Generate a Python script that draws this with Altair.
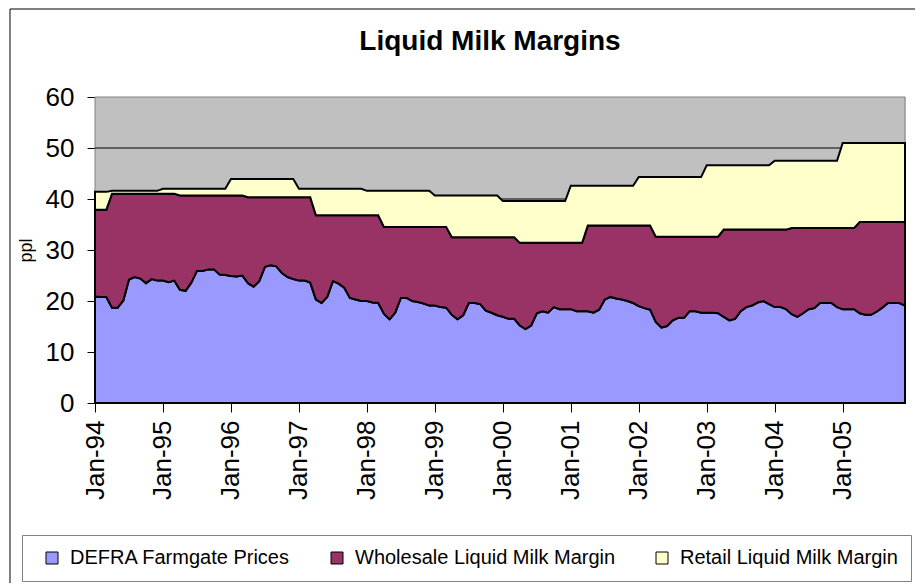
import altair as alt
import pandas as pd

FONT = "Liberation Sans"

title_text = "Liquid Milk Margins"
series_names = ["DEFRA Farmgate Prices", "Wholesale Liquid Milk Margin", "Retail Liquid Milk Margin"]
series_colors = ["#9999FF", "#993366", "#FFFFCC"]
tick_labels = ["Jan-94", "Jan-95", "Jan-96", "Jan-97", "Jan-98", "Jan-99",
               "Jan-00", "Jan-01", "Jan-02", "Jan-03", "Jan-04", "Jan-05"]
y_ticks = [0, 10, 20, 30, 40, 50, 60]
grid_levels = [10, 20, 30, 40, 50]

# DEFRA farmgate price (ppl), monthly Jan-94 .. Dec-05
farm_price = [
    20.9, 20.8, 20.8, 18.7, 18.7, 20.1, 24.2, 24.7, 24.4, 23.5, 24.3, 24.0,
    24.0, 23.7, 24.0, 22.2, 22.0, 23.6, 25.9, 25.9, 26.2, 26.2, 25.2, 25.1,
    24.9, 24.8, 25.0, 23.5, 22.8, 23.9, 26.7, 27.0, 26.8, 25.5, 24.7, 24.3,
    24.0, 24.0, 23.6, 20.3, 19.6, 20.8, 23.9, 23.4, 22.6, 20.6, 20.3, 20.0,
    20.0, 19.7, 19.6, 17.5, 16.4, 17.7, 20.6, 20.6, 20.0, 19.8, 19.5, 19.1,
    19.1, 18.8, 18.7, 17.3, 16.4, 17.2, 19.6, 19.6, 19.4, 18.1, 17.7, 17.2,
    16.9, 16.5, 16.5, 15.2, 14.5, 15.2, 17.6, 18.0, 17.7, 18.8, 18.4, 18.4,
    18.4, 18.0, 18.0, 18.0, 17.7, 18.3, 20.3, 20.8, 20.5, 20.3, 20.0, 19.6,
    19.0, 18.6, 18.3, 15.9, 14.8, 15.1, 16.2, 16.7, 16.7, 18.0, 18.0, 17.7,
    17.7, 17.7, 17.6, 16.9, 16.2, 16.5, 18.0, 18.8, 19.1, 19.7, 20.0, 19.4,
    18.8, 18.8, 18.4, 17.4, 16.9, 17.6, 18.4, 18.6, 19.6, 19.6, 19.6, 18.8,
    18.4, 18.4, 18.4, 17.6, 17.3, 17.3, 17.9, 18.7, 19.6, 19.6, 19.6, 19.1,
]

# Top of the wholesale band (farmgate + wholesale margin), ppl
wholesale_level = [
    37.9, 37.9, 37.9, 41.05, 41.05, 41.05, 41.05, 41.05, 41.05, 41.05, 41.05, 41.05,
    41.05, 41.05, 41.05, 40.7, 40.7, 40.7, 40.7, 40.7, 40.7, 40.7, 40.7, 40.7,
    40.7, 40.7, 40.7, 40.35, 40.35, 40.35, 40.35, 40.35, 40.35, 40.35, 40.35, 40.35,
    40.35, 40.35, 40.35, 36.8, 36.8, 36.8, 36.8, 36.8, 36.8, 36.8, 36.8, 36.8,
    36.8, 36.8, 36.8, 34.5, 34.5, 34.5, 34.5, 34.5, 34.5, 34.5, 34.5, 34.5,
    34.5, 34.5, 34.5, 32.5, 32.5, 32.5, 32.5, 32.5, 32.5, 32.5, 32.5, 32.5,
    32.5, 32.5, 32.5, 31.4, 31.4, 31.4, 31.4, 31.4, 31.4, 31.4, 31.4, 31.4,
    31.4, 31.4, 31.4, 34.8, 34.8, 34.8, 34.8, 34.8, 34.8, 34.8, 34.8, 34.8,
    34.8, 34.8, 34.8, 32.6, 32.6, 32.6, 32.6, 32.6, 32.6, 32.6, 32.6, 32.6,
    32.6, 32.6, 32.6, 34.0, 34.0, 34.0, 34.0, 34.0, 34.0, 34.0, 34.0, 34.0,
    34.0, 34.0, 34.0, 34.3, 34.3, 34.3, 34.3, 34.3, 34.3, 34.3, 34.3, 34.3,
    34.3, 34.3, 34.3, 35.5, 35.5, 35.5, 35.5, 35.5, 35.5, 35.5, 35.5, 35.5,
]

# Top of the retail band (total retail price), ppl
retail_level = [
    41.4, 41.4, 41.4, 41.6, 41.6, 41.6, 41.6, 41.6, 41.6, 41.6, 41.6, 41.6,
    42.0, 42.0, 42.0, 42.0, 42.0, 42.0, 42.0, 42.0, 42.0, 42.0, 42.0, 42.0,
    43.9, 43.9, 43.9, 43.9, 43.9, 43.9, 43.9, 43.9, 43.9, 43.9, 43.9, 43.9,
    42.0, 42.0, 42.0, 42.0, 42.0, 42.0, 42.0, 42.0, 42.0, 42.0, 42.0, 42.0,
    41.6, 41.6, 41.6, 41.6, 41.6, 41.6, 41.6, 41.6, 41.6, 41.6, 41.6, 41.6,
    40.7, 40.7, 40.7, 40.7, 40.7, 40.7, 40.7, 40.7, 40.7, 40.7, 40.7, 40.7,
    39.6, 39.6, 39.6, 39.6, 39.6, 39.6, 39.6, 39.6, 39.6, 39.6, 39.6, 39.6,
    42.6, 42.6, 42.6, 42.6, 42.6, 42.6, 42.6, 42.6, 42.6, 42.6, 42.6, 42.6,
    44.3, 44.3, 44.3, 44.3, 44.3, 44.3, 44.3, 44.3, 44.3, 44.3, 44.3, 44.3,
    46.6, 46.6, 46.6, 46.6, 46.6, 46.6, 46.6, 46.6, 46.6, 46.6, 46.6, 46.6,
    47.5, 47.5, 47.5, 47.5, 47.5, 47.5, 47.5, 47.5, 47.5, 47.5, 47.5, 47.5,
    51.0, 51.0, 51.0, 51.0, 51.0, 51.0, 51.0, 51.0, 51.0, 51.0, 51.0, 51.0,
]

n_months = len(farm_price)

rows = []
for m in range(n_months):
    bands = [
        (0.0, farm_price[m]),
        (farm_price[m], wholesale_level[m]),
        (wholesale_level[m], retail_level[m]),
    ]
    for name, (lo, hi) in zip(series_names, bands):
        rows.append({"month": m, "series": name, "lo": lo, "hi": hi})
df = pd.DataFrame(rows)

label_expr = "[" + ",".join("'%s'" % t for t in tick_labels) + "][round(datum.value / 12)]"

x_scale = alt.Scale(domain=[0, n_months - 1], nice=False, zero=False)
y_scale = alt.Scale(domain=[0, 60], nice=False)

x_axis = alt.Axis(
    values=[12 * i for i in range(len(tick_labels))],
    labelExpr=label_expr,
    labelAngle=270,
    labelFontSize=26,
    labelFont=FONT,
    labelColor="black",
    labelPadding=8,
    tickSize=9,
    tickColor="black",
    domainColor="black",
    grid=False,
    title=None,
)
y_axis = alt.Axis(
    values=y_ticks,
    labelFontSize=26,
    labelFont=FONT,
    labelColor="black",
    labelPadding=13,
    tickSize=8,
    tickColor="black",
    domainColor="black",
    grid=False,
    title="ppl",
    titleFont=FONT,
    titleFontSize=18,
    titleFontWeight="normal",
    titleColor="black",
    titlePadding=10,
)

# grey plot-area background, through the scales
plot_bg = alt.Chart(pd.DataFrame({"bg": [0]})).mark_rect(
    fill="#C0C0C0", stroke="#808080", strokeWidth=1
).encode(
    x=alt.datum(0, scale=x_scale, axis=x_axis, type="quantitative"),
    x2=alt.datum(n_months - 1),
    y=alt.datum(0, scale=y_scale, axis=y_axis, type="quantitative"),
    y2=alt.datum(60),
)

grid = alt.Chart(pd.DataFrame({"level": grid_levels})).mark_rule(
    color="black", strokeWidth=1
).encode(
    y=alt.Y("level:Q", scale=y_scale, axis=y_axis),
)

areas = alt.Chart(df).mark_area(
    stroke="black", strokeWidth=2, interpolate="linear"
).encode(
    x=alt.X("month:Q", scale=x_scale, axis=x_axis),
    y=alt.Y("hi:Q", scale=y_scale, axis=y_axis),
    y2="lo:Q",
    color=alt.Color(
        "series:N",
        scale=alt.Scale(domain=series_names, range=series_colors),
        legend=alt.Legend(
            title=None,
            orient="none",
            legendX=-73,
            legendY=438,
            direction="horizontal",
            labelFont=FONT,
            labelFontSize=20,
            labelColor="black",
            labelLimit=500,
            labelOffset=8,
            symbolType="square",
            symbolSize=144,
            symbolStrokeColor="black",
            symbolStrokeWidth=1,
            symbolOffset=7,
            columnPadding=29,
            padding=13,
            strokeColor="#808080",
            fillColor="white",
        ),
    ),
)

frame = alt.Chart(pd.DataFrame({"frame": [0]})).mark_rect(
    filled=False, stroke="black", strokeWidth=1
).encode(
    x=alt.value(-85), x2=alt.value(1200), y=alt.value(-88), y2=alt.value(1200)
)

chart = alt.layer(plot_bg, grid, areas, frame).properties(
    width=810,
    height=306,
    autosize=alt.AutoSizeParams(type="none"),
    padding={"left": 87, "top": 89, "right": 10, "bottom": 180},
    title=alt.TitleParams(
        text=title_text,
        font=FONT,
        fontSize=28,
        fontWeight="bold",
        color="black",
        anchor="middle",
        frame="group",
        baseline="alphabetic",
        offset=-69.5,
        dx=-10,
    ),
).configure_view(
    stroke=None
).configure_legend(
    strokeWidth=2
).configure(
    font=FONT
)

chart.save("out.html", embed_options={"renderer": "svg", "actions": False})
